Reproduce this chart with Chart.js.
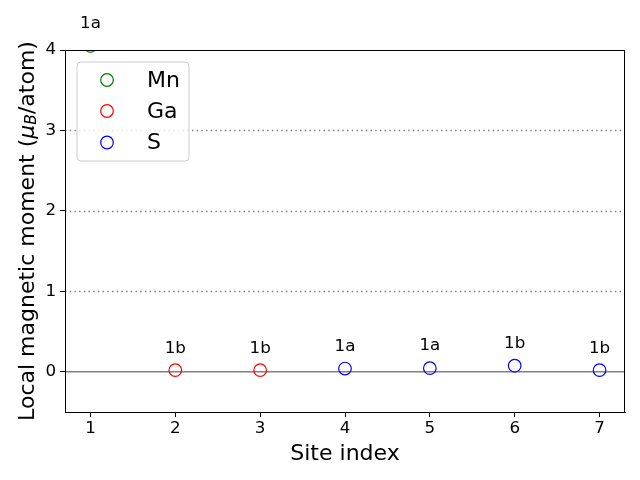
<!DOCTYPE html>
<html><head><meta charset="utf-8">
<script src="https://cdn.jsdelivr.net/npm/chart.js@4/dist/chart.umd.min.js"></script>
<style>html,body{margin:0;padding:0;background:#fff}canvas{display:block}</style>
</head><body>
<canvas id="c" width="640" height="480"></canvas>
<script>
const xTicks = [1, 2, 3, 4, 5, 6, 7];
const yTicks = [0, 1, 2, 3, 4];
const gridLevels = [1, 2, 3];
const mnSites = [1];
const mnMoments = [4.05];
const mnLabels = ['1a'];
const gaSites = [2, 3];
const gaMoments = [0.02, 0.02];
const gaLabels = ['1b', '1b'];
const sSites = [4, 5, 6, 7];
const sMoments = [0.04, 0.045, 0.075, 0.02];
const sLabels = ['1a', '1a', '1b', '1b'];
const seriesNames = ['Mn', 'Ga', 'S'];
const seriesColors = ['#008000', '#ff0000', '#0000ff'];

const FONT = "'DejaVu Sans', sans-serif";
const toPts = (xs, ys) => xs.map((x, i) => ({x: x, y: ys[i]}));
const siteLabels = [mnLabels, gaLabels, sLabels];

const ds = [[mnSites, mnMoments], [gaSites, gaMoments], [sSites, sMoments]].map((s, i) => ({
  label: seriesNames[i],
  data: toPts(s[0], s[1]),
  borderColor: seriesColors[i],
  backgroundColor: 'rgba(0,0,0,0)',
  pointRadius: 6.3,
  pointBorderWidth: 1.2,
  pointHoverRadius: 6.3,
  showLine: false,
  clip: {left: 0, top: 0, right: 0, bottom: 0}
}));

const deco = {
  id: 'deco',
  beforeDatasetsDraw(chart) {
    const {ctx, chartArea: a, scales: {y}} = chart;
    ctx.save();
    ctx.strokeStyle = '#808080';
    ctx.lineWidth = 1.5;
    ctx.setLineDash([1.5, 3.2]);
    gridLevels.forEach(v => {
      const py = Math.round(y.getPixelForValue(v)) + 0.5;
      ctx.beginPath(); ctx.moveTo(a.left, py); ctx.lineTo(a.right, py); ctx.stroke();
    });
    ctx.setLineDash([]);
    ctx.lineWidth = 1.5;
    const z = y.getPixelForValue(0);
    ctx.beginPath(); ctx.moveTo(a.left, z); ctx.lineTo(a.right, z); ctx.stroke();
    ctx.restore();
  },
  afterDraw(chart) {
    const {ctx, chartArea: a, scales: {x, y}} = chart;
    ctx.save();
    // frame
    ctx.strokeStyle = '#000'; ctx.lineWidth = 1;
    ctx.strokeRect(Math.round(a.left) + 0.5, Math.round(a.top) + 0.5, Math.round(a.right - a.left) - 1, Math.round(a.bottom - a.top));
    // site labels
    ctx.fillStyle = '#000';
    ctx.font = '16.7px ' + FONT;
    ctx.textAlign = 'center'; ctx.textBaseline = 'middle';
    chart.data.datasets.forEach((d, i) => {
      d.data.forEach((p, j) => {
        ctx.fillText(siteLabels[i][j], x.getPixelForValue(p.x), y.getPixelForValue(p.y) - 22);
      });
    });
    // legend
    const lx = 77, ly = 62, lw = 112, lh = 99, r = 4;
    ctx.beginPath();
    ctx.moveTo(lx + r, ly); ctx.lineTo(lx + lw - r, ly); ctx.quadraticCurveTo(lx + lw, ly, lx + lw, ly + r);
    ctx.lineTo(lx + lw, ly + lh - r); ctx.quadraticCurveTo(lx + lw, ly + lh, lx + lw - r, ly + lh);
    ctx.lineTo(lx + r, ly + lh); ctx.quadraticCurveTo(lx, ly + lh, lx, ly + lh - r);
    ctx.lineTo(lx, ly + r); ctx.quadraticCurveTo(lx, ly, lx + r, ly); ctx.closePath();
    ctx.fillStyle = 'rgba(255,255,255,0.8)'; ctx.fill();
    ctx.strokeStyle = '#cccccc'; ctx.lineWidth = 1; ctx.stroke();
    const rows = [80, 111, 142.5];
    ctx.font = '22px ' + FONT; ctx.textAlign = 'left'; ctx.textBaseline = 'middle';
    seriesNames.forEach((n, i) => {
      ctx.beginPath(); ctx.arc(107, rows[i], 6.3, 0, Math.PI * 2);
      ctx.strokeStyle = seriesColors[i]; ctx.lineWidth = 1.2; ctx.stroke();
      ctx.fillStyle = '#000'; ctx.fillText(n, 147, rows[i] + 1);
    });
    // x title
    ctx.font = '22px ' + FONT; ctx.textAlign = 'center'; ctx.textBaseline = 'middle';
    ctx.fillText('Site index', (a.left + a.right) / 2, 454);
    // y title with mathtext
    const parts = [
      {t: 'Local magnetic moment (', f: '22px ' + FONT, dy: 0},
      {t: 'μ', f: 'italic 22px ' + FONT, dy: 0},
      {t: 'B', f: 'italic 15.5px ' + FONT, dy: 4},
      {t: '/atom)', f: '22px ' + FONT, dy: 0}
    ];
    let total = 0;
    parts.forEach(p => { ctx.font = p.f; p.w = ctx.measureText(p.t).width; total += p.w; });
    ctx.translate(28, (a.top + a.bottom) / 2);
    ctx.rotate(-Math.PI / 2);
    ctx.textAlign = 'left'; ctx.textBaseline = 'middle';
    let cx = -total / 2;
    parts.forEach(p => { ctx.font = p.f; ctx.fillText(p.t, cx, p.dy); cx += p.w; });
    ctx.restore();
  }
};

new Chart(document.getElementById('c'), {
  type: 'scatter',
  data: {datasets: ds},
  options: {
    responsive: false, animation: false, devicePixelRatio: 1,
    layout: {padding: {top: 50, right: 15, left: 0, bottom: 0}},
    plugins: {legend: {display: false}, tooltip: {enabled: false}},
    scales: {
      x: {
        type: 'linear', min: 0.7, max: 7.3,
        afterBuildTicks: s => { s.ticks = xTicks.map(v => ({value: v})); },
        afterFit: s => { s.height = 68; },
        ticks: {color: '#000', font: {family: FONT, size: 16.7}, padding: 2, callback: v => String(v)},
        grid: {drawOnChartArea: false, tickLength: 5, tickColor: '#000', tickWidth: 1},
        border: {color: '#000', width: 1}
      },
      y: {
        min: -0.5, max: 4,
        afterBuildTicks: s => { s.ticks = yTicks.map(v => ({value: v})); },
        afterFit: s => { s.width = 65; },
        ticks: {color: '#000', font: {family: FONT, size: 16.7}, padding: 4, callback: v => String(v)},
        grid: {drawOnChartArea: false, tickLength: 5, tickColor: '#000', tickWidth: 1},
        border: {color: '#000', width: 1}
      }
    }
  },
  plugins: [deco]
});
</script>
</body></html>
